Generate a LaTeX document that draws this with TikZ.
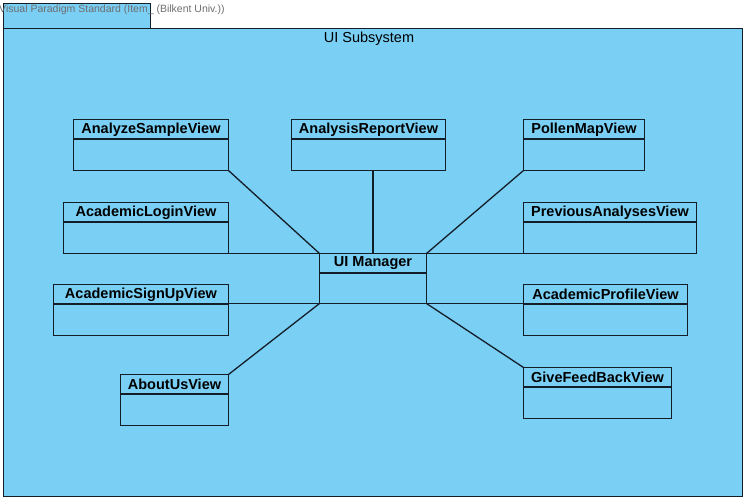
\documentclass[tikz,border=0pt]{standalone}
\usepackage{fontspec}
\setmainfont{Liberation Sans}
\definecolor{pkgblue}{RGB}{122,207,245}
\definecolor{edge}{RGB}{20,30,40}
\definecolor{wmgray}{RGB}{110,110,110}
\tikzset{
  cls/.style={draw=edge, fill=pkgblue, line width=1.3pt, inner sep=0pt, outer sep=0pt, anchor=north west},
  ttl/.style={inner sep=0pt, font=\fontsize{14.5}{16}\selectfont\bfseries, text=black},
  hdr/.style={draw=edge, line width=1.3pt},
  conn/.style={draw=edge, line width=1.3pt},
  pkg/.style={draw=edge, fill=pkgblue, line width=1.3pt},
}
\newcommand\umlclass[6]{%
  \node[cls, minimum width=#4pt, minimum height=#5pt] (#1) at (#2,#3) {};
  \draw[hdr] ([yshift=-19.5pt]#1.north west) -- ([yshift=-19.5pt]#1.north east);
  \node[ttl] (#1-t) at ([yshift=-10pt]#1.north) {#6};
}
\begin{document}
\begin{tikzpicture}[x=1pt,y=-1pt]
\useasboundingbox (0,0) rectangle (747,502);
% package
\draw[pkg] (3.5,3.5) rectangle (150.5,28.5);
\draw[pkg] (3.5,28.5) rectangle (742.5,496.5);
\node[anchor=west, inner sep=0pt, text=wmgray, font=\fontsize{10.5}{11}\selectfont] (wm) at (-1,9.5) {Visual Paradigm Standard (Item\_ (Bilkent Univ.))};
\node[inner sep=0pt, font=\fontsize{14.5}{16}\selectfont] (title) at (369,38.5) {UI Subsystem};
% classes
\umlclass{asv}{73.5}{119.5}{155}{51}{AnalyzeSampleView}
\umlclass{arv}{291.5}{119.5}{154}{51}{AnalysisReportView}
\umlclass{pmv}{523.5}{119.5}{121}{51}{PollenMapView}
\umlclass{alv}{63.5}{202.5}{165}{51}{AcademicLoginView}
\umlclass{pav}{523.5}{202.5}{173}{51}{PreviousAnalysesView}
\umlclass{asu}{53.5}{284.5}{175}{51}{AcademicSignUpView}
\umlclass{apv}{523.5}{284.5}{164}{51}{AcademicProfileView}
\umlclass{auv}{120.5}{374.5}{108}{51}{AboutUsView}
\umlclass{gfv}{523.5}{367.5}{148}{51}{GiveFeedBackView}
\umlclass{uim}{319.5}{253.5}{107}{50}{UI Manager}
% connectors
\draw[conn] (asv.south east) -- (uim.north west);
\draw[conn] (uim.north |- arv.south) -- (uim.north);
\draw[conn] (pmv.south west) -- (uim.north east);
\draw[conn] (alv.south east) -- (uim.north west);
\draw[conn] (pav.south west) -- (uim.north east);
\draw[conn] (uim.south west -| asu.east) -- (uim.south west);
\draw[conn] (uim.south east) -- (uim.south east -| apv.west);
\draw[conn] (auv.north east) -- (uim.south west);
\draw[conn] (gfv.north west) -- (uim.south east);
\end{tikzpicture}
\end{document}
